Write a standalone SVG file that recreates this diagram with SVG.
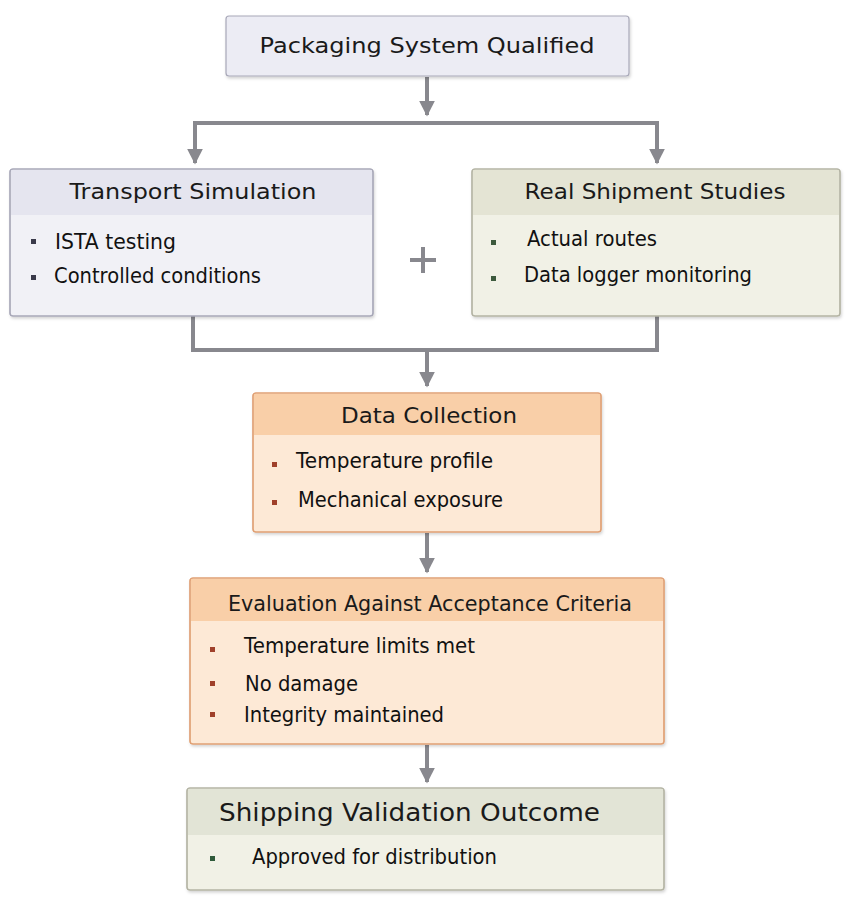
<svg xmlns="http://www.w3.org/2000/svg" width="853" height="900" viewBox="0 0 853 900">
<defs>
<style>
.t{font-family:"DejaVu Sans","Liberation Sans",sans-serif;font-size:22px;fill:#1a1a1a;text-anchor:middle}
.b{font-family:"DejaVu Sans","Liberation Sans",sans-serif;font-size:21px;fill:#111}
.c{fill:none;stroke:#88888e;stroke-width:4}
.plus{fill:none;stroke:#88888e;stroke-width:4}
</style>
<marker id="ah" viewBox="0 0 10 10" refX="9" refY="5" markerWidth="4" markerHeight="4" markerUnits="strokeWidth" orient="auto">
<path d="M0,0 L10,5 L0,10 z" fill="#88888e"/>
</marker>
<filter id="sh" x="-5%" y="-5%" width="110%" height="115%">
<feDropShadow dx="1" dy="2" stdDeviation="1.5" flood-color="#000" flood-opacity="0.18"/>
</filter>
</defs>
<rect width="853" height="900" fill="#ffffff"/>

<g id="connectors">
<line class="c" x1="427" y1="77" x2="427" y2="115" marker-end="url(#ah)"/>
<polyline class="c" points="195,163 195,123 657,123 657,163" marker-end="url(#ah)"/>
<line class="c" x1="195" y1="125" x2="195" y2="163" marker-end="url(#ah)"/>
<polyline class="c" points="193,316 193,350 657,350 657,316"/>
<line class="c" x1="427" y1="350" x2="427" y2="386" marker-end="url(#ah)"/>
<line class="c" x1="427" y1="533" x2="427" y2="572" marker-end="url(#ah)"/>
<line class="c" x1="427" y1="745" x2="427" y2="782" marker-end="url(#ah)"/>
</g>

<g id="n_top">
<rect x="226" y="16" width="403" height="60" rx="3" fill="#ececf4" stroke="#a8a8b8" stroke-width="1.2" filter="url(#sh)"/>
<text class="t" x="427" y="53" textLength="335" lengthAdjust="spacingAndGlyphs">Packaging System Qualified</text>
</g>

<g id="n_transport">
<rect x="10" y="169" width="363" height="147" rx="3" fill="#f1f1f6" stroke="#a8a8b8" stroke-width="1.2" filter="url(#sh)"/>
<path d="M11,170 H372 V215 H11 Z" fill="#e5e5ef"/>
<rect x="10" y="169" width="363" height="147" rx="3" fill="none" stroke="#a8a8b8" stroke-width="1.2"/>
<text class="t" x="193" y="199" textLength="247" lengthAdjust="spacingAndGlyphs">Transport Simulation</text>
<rect x="31" y="239" width="5" height="5" fill="#3a3a4a"/>
<rect x="31" y="275" width="5" height="5" fill="#3a3a4a"/>
<text class="b" x="55" y="249" textLength="121" lengthAdjust="spacingAndGlyphs">ISTA testing</text>
<text class="b" x="54" y="283" textLength="207" lengthAdjust="spacingAndGlyphs">Controlled conditions</text>
</g>

<g id="plus">
<path class="plus" d="M423,247 V273 M410,260 H436"/>
</g>

<g id="n_real">
<rect x="472" y="169" width="368" height="147" rx="3" fill="#f1f1e6" stroke="#b4b4a4" stroke-width="1.2" filter="url(#sh)"/>
<path d="M473,170 H839 V215 H473 Z" fill="#e4e4d4"/>
<rect x="472" y="169" width="368" height="147" rx="3" fill="none" stroke="#b4b4a4" stroke-width="1.2"/>
<text class="t" x="655" y="199" textLength="261" lengthAdjust="spacingAndGlyphs">Real Shipment Studies</text>
<rect x="491" y="240" width="5" height="5" fill="#3d5a3d"/>
<rect x="491" y="276" width="5" height="5" fill="#3d5a3d"/>
<text class="b" x="527" y="246" textLength="130" lengthAdjust="spacingAndGlyphs">Actual routes</text>
<text class="b" x="524" y="282" textLength="228" lengthAdjust="spacingAndGlyphs">Data logger monitoring</text>
</g>

<g id="n_data">
<rect x="253" y="393" width="348" height="139" rx="3" fill="#fde9d6" stroke="#e0a074" stroke-width="1.2" filter="url(#sh)"/>
<path d="M254,394 H600 V435 H254 Z" fill="#f9cfa8"/>
<rect x="253" y="393" width="348" height="139" rx="3" fill="none" stroke="#e0a074" stroke-width="1.2"/>
<text class="t" x="429" y="423" textLength="176" lengthAdjust="spacingAndGlyphs">Data Collection</text>
<rect x="272" y="462" width="5" height="5" fill="#a0402a"/>
<rect x="272" y="500" width="5" height="5" fill="#a0402a"/>
<text class="b" x="296" y="468" textLength="197" lengthAdjust="spacingAndGlyphs">Temperature profile</text>
<text class="b" x="298" y="507" textLength="205" lengthAdjust="spacingAndGlyphs">Mechanical exposure</text>
</g>

<g id="n_eval">
<rect x="190" y="578" width="474" height="166" rx="3" fill="#fde9d6" stroke="#e0a074" stroke-width="1.2" filter="url(#sh)"/>
<path d="M191,579 H663 V621 H191 Z" fill="#f9cfa8"/>
<rect x="190" y="578" width="474" height="166" rx="3" fill="none" stroke="#e0a074" stroke-width="1.2"/>
<text class="t" x="430" y="611" textLength="404" lengthAdjust="spacingAndGlyphs">Evaluation Against Acceptance Criteria</text>
<rect x="210" y="647" width="5" height="5" fill="#a0402a"/>
<rect x="210" y="681" width="5" height="5" fill="#a0402a"/>
<rect x="210" y="712" width="5" height="5" fill="#a0402a"/>
<text class="b" x="244" y="653" textLength="231" lengthAdjust="spacingAndGlyphs">Temperature limits met</text>
<text class="b" x="245" y="691" textLength="113" lengthAdjust="spacingAndGlyphs">No damage</text>
<text class="b" x="244" y="722" textLength="200" lengthAdjust="spacingAndGlyphs">Integrity maintained</text>
</g>

<g id="n_outcome">
<rect x="187" y="788" width="477" height="102" rx="3" fill="#f1f1e6" stroke="#b4b4a4" stroke-width="1.2" filter="url(#sh)"/>
<path d="M188,789 H663 V835 H188 Z" fill="#e2e4d6"/>
<rect x="187" y="788" width="477" height="102" rx="3" fill="none" stroke="#b4b4a4" stroke-width="1.2"/>
<text class="t" x="409.5" y="821" style="font-size:24px" textLength="381" lengthAdjust="spacingAndGlyphs">Shipping Validation Outcome</text>
<rect x="210" y="856" width="5" height="5" fill="#2f5a3a"/>
<text class="b" x="252" y="864" textLength="245" lengthAdjust="spacingAndGlyphs">Approved for distribution</text>
</g>
</svg>
